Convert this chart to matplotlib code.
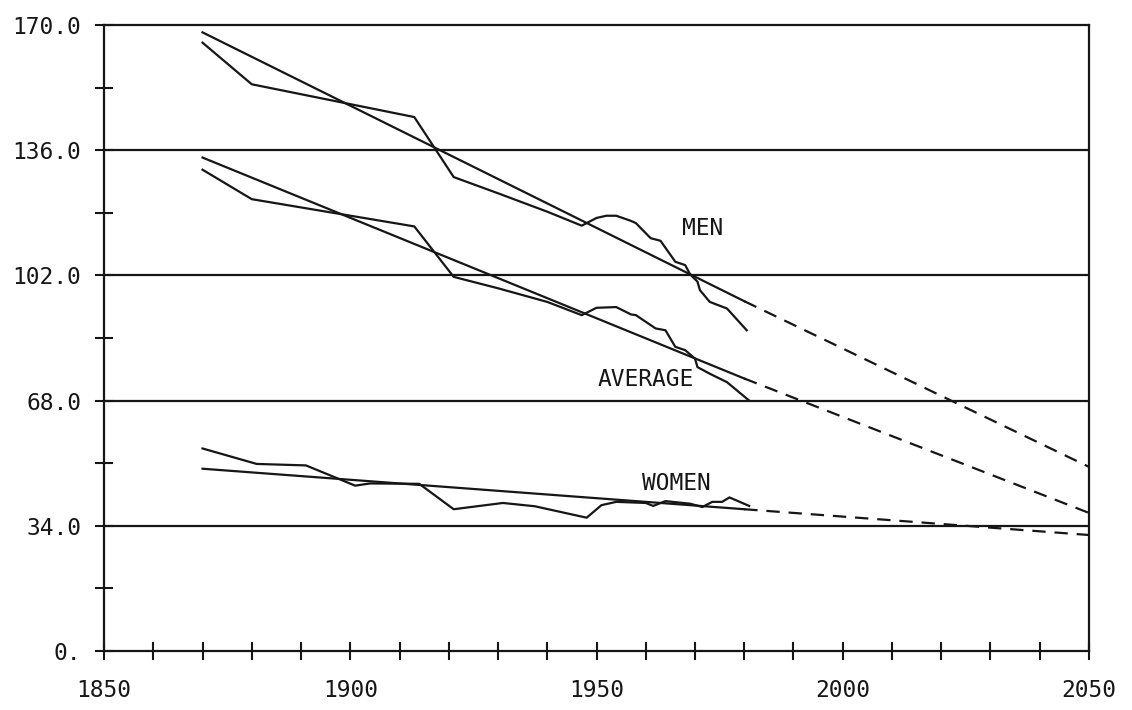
import matplotlib
matplotlib.use("Agg")
import matplotlib.pyplot as plt

men_years = [1870, 1880, 1913, 1921, 1930, 1940, 1947, 1950, 1952, 1954, 1957, 1958,
             1961, 1963, 1966, 1968, 1969, 1970.5, 1971, 1973, 1976.5, 1980.5]
men = [165.2, 153.9, 145.0, 128.7, 124.3, 119.3, 115.5, 117.6, 118.2, 118.2, 116.8, 116.2,
       112.1, 111.4, 105.7, 104.8, 102.3, 100.3, 98.0, 94.8, 93.0, 87.1]

avg_years = [1870, 1880, 1913, 1921, 1930, 1940, 1947, 1950, 1954, 1957, 1958, 1962,
             1964, 1966, 1968, 1970, 1970.5, 1973, 1976.5, 1981]
avg = [130.7, 122.7, 115.3, 101.6, 98.5, 94.8, 91.2, 93.2, 93.4, 91.4, 91.2, 87.6,
       87.1, 82.6, 81.7, 79.4, 77.1, 75.3, 73.0, 68.0]

women_years = [1870, 1881, 1891, 1901, 1904, 1914, 1921, 1931, 1937.5, 1948, 1951, 1954,
               1960, 1961.5, 1964, 1969, 1971.5, 1973.5, 1975.5, 1977, 1981]
women = [55.0, 50.8, 50.4, 44.9, 45.5, 45.4, 38.5, 40.2, 39.3, 36.2, 39.6, 40.5,
         40.2, 39.4, 40.7, 40.0, 39.1, 40.5, 40.5, 41.7, 39.4]

# fitted trends: start, end of data, projection
trend_years = [1870, 1980, 2050]
men_trend = [168.0, 95.0, 50.0]
avg_trend = [134.0, 74.0, 37.5]
women_trend = [49.5, 38.5, 31.5]

labels = ["MEN", "AVERAGE", "WOMEN"]
label_pos = [(1971.5, 114.8), (1960, 73.8), (1966.3, 45.6)]

grid_y = [34, 68, 102, 136]
ytick_labels = ["0.", "34.0", "68.0", "102.0", "136.0", "170.0"]
xtick_labels = ["1850", "1900", "1950", "2000", "2050"]

ink = "#161616"
plt.rcParams["font.family"] = ["DejaVu Sans Mono"]

fig = plt.figure(figsize=(11.32, 7.10), dpi=100)
ax = fig.add_axes([0.0919, 0.0831, 0.8701, 0.8817])

for y in grid_y:
    ax.axhline(y, color=ink, lw=1.6)

for xs, ys in [(men_years, men), (avg_years, avg), (women_years, women)]:
    ax.plot(xs, ys, color=ink, lw=1.6)

for tr in [men_trend, avg_trend, women_trend]:
    ax.plot(trend_years[:2], tr[:2], color=ink, lw=1.6)
    ax.plot(trend_years[1:], tr[1:], color=ink, lw=1.6, dashes=(6, 4))

for lab, (x, y) in zip(labels, label_pos):
    ax.text(x, y, lab, fontsize=16.5, color=ink, ha="center", va="center")

ax.set_xlim(1850, 2050)
ax.set_ylim(0, 170)
ax.set_xticks(range(1850, 2051, 10))
ax.set_xticklabels([xtick_labels[i // 5] if i % 5 == 0 else "" for i in range(21)])
ax.set_yticks(range(0, 171, 17))
ax.set_yticklabels([ytick_labels[i // 2] if i % 2 == 0 else "" for i in range(11)])

ax.tick_params(axis="x", direction="inout", length=13, width=1.5, color=ink,
               labelsize=16.5, labelcolor=ink, pad=14)
ax.tick_params(axis="y", direction="inout", length=13, width=1.5, color=ink,
               labelsize=16.5, labelcolor=ink, pad=10)
for s in ax.spines.values():
    s.set_linewidth(1.6)
    s.set_color(ink)

fig.savefig("out.png", dpi=100)
